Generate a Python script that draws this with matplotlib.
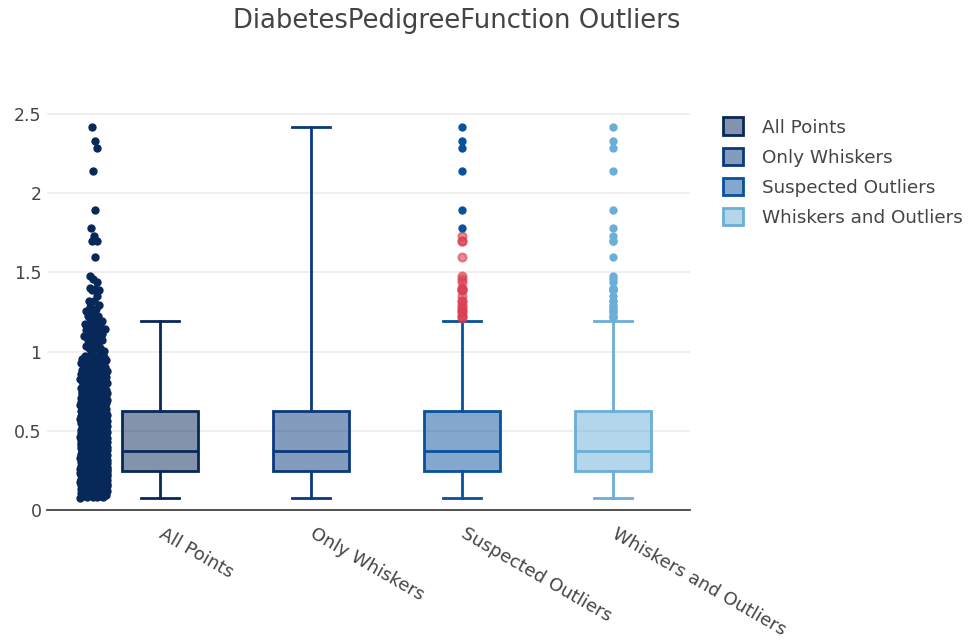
import numpy as np
import matplotlib.pyplot as plt
from matplotlib.patches import Patch
from matplotlib.colors import to_rgba

plt.rcParams['font.family'] = ['DejaVu Sans']

names = ['All Points', 'Only Whiskers', 'Suspected Outliers', 'Whiskers and Outliers']
colors = ['#072859', '#09387d', '#08519c', '#6baed6']
outlier_red = (219 / 255, 64 / 255, 82 / 255, 0.6)

# DiabetesPedigreeFunction values
dpf = [
    0.627, 0.351, 0.672, 0.167, 2.288, 0.201, 0.248, 0.134, 0.158, 0.232, 0.191, 0.537, 1.441, 0.398,
    0.587, 0.484, 0.551, 0.254, 0.183, 0.529, 0.704, 0.388, 0.451, 0.263, 0.254, 0.205, 0.257, 0.487,
    0.245, 0.337, 0.546, 0.851, 0.267, 0.188, 0.512, 0.966, 0.420, 0.665, 0.503, 1.390, 0.271, 0.696,
    0.235, 0.721, 0.294, 1.893, 0.564, 0.586, 0.344, 0.305, 0.491, 0.526, 0.342, 0.467, 0.718, 0.962,
    1.781, 0.173, 0.304, 0.270, 0.699, 0.258, 0.203, 0.855, 0.845, 0.334, 0.189, 0.867, 0.411, 0.583,
    0.231, 0.396, 0.140, 0.391, 0.370, 0.270, 0.307, 0.140, 0.102, 0.767, 0.237, 0.227, 0.698, 0.178,
    0.324, 0.153, 0.165, 0.258, 0.443, 0.261, 0.277, 0.761, 0.255, 0.130, 0.323, 0.356, 0.325, 1.222,
    0.179, 0.262, 0.283, 0.930, 0.801, 0.207, 0.287, 0.336, 0.247, 0.199, 0.543, 0.192, 0.391, 0.588,
    0.539, 0.220, 0.654, 0.443, 0.223, 0.759, 0.260, 0.404, 0.186, 0.278, 0.496, 0.452, 0.261, 0.403,
    0.741, 0.361, 1.114, 0.356, 0.457, 0.647, 0.088, 0.597, 0.532, 0.703, 0.159, 0.268, 0.286, 0.318,
    0.272, 0.237, 0.572, 0.096, 1.400, 0.218, 0.085, 0.399, 0.432, 1.189, 0.687, 0.137, 0.337, 0.637,
    0.833, 0.229, 0.817, 0.294, 0.204, 0.167, 0.368, 0.743, 0.722, 0.256, 0.709, 0.471, 0.495, 0.180,
    0.542, 0.773, 0.678, 0.370, 0.719, 0.382, 0.319, 0.190, 0.956, 0.084, 0.725, 0.299, 0.268, 0.244,
    0.745, 0.615, 1.321, 0.640, 0.142, 0.374, 0.383, 0.578, 0.136, 0.395, 0.187, 0.678, 0.905, 0.150,
    0.874, 0.236, 0.787, 0.235, 0.324, 0.407, 0.605, 0.151, 0.289, 0.355, 0.290, 0.375, 0.164, 0.431,
    0.260, 0.742, 0.514, 0.464, 1.224, 0.261, 1.072, 0.805, 0.209, 0.687, 0.666, 0.101, 0.198, 0.652,
    2.329, 0.089, 0.645, 0.238, 0.583, 0.394, 0.293, 0.479, 0.586, 0.686, 0.831, 0.582, 0.192, 0.446,
    0.402, 1.318, 0.329, 1.213, 0.258, 0.427, 0.282, 0.143, 0.380, 0.284, 0.249, 0.926, 0.557, 0.092,
    0.655, 1.353, 0.612, 0.200, 0.226, 0.997, 0.933, 1.101, 0.078, 0.240, 1.136, 0.128, 0.254, 0.422,
    0.251, 0.677, 0.296, 0.454, 0.744, 0.881, 0.280, 0.262, 0.165, 0.259, 0.647, 0.619, 0.808, 0.340,
    0.434, 0.757, 0.613, 0.692, 0.520, 0.412, 0.840, 0.839, 0.156, 0.215, 0.326, 1.391, 0.875, 0.313,
    0.433, 0.626, 1.127, 0.315, 0.345, 0.129, 0.527, 0.197, 0.731, 0.148, 0.123, 0.127, 0.122, 1.476,
    0.166, 0.932, 0.343, 0.893, 0.331, 0.472, 0.673, 0.389, 0.485, 0.349, 0.279, 0.346, 0.252, 0.243,
    0.580, 0.559, 0.302, 0.569, 0.378, 0.385, 0.499, 0.306, 0.234, 2.137, 1.731, 0.545, 0.225, 0.816,
    0.528, 0.509, 1.021, 0.821, 0.947, 1.268, 0.221, 0.205, 0.660, 0.239, 0.949, 0.444, 0.463, 0.803,
    1.600, 0.944, 0.196, 0.241, 0.161, 0.135, 0.376, 1.191, 0.702, 0.674, 1.076, 0.534, 1.095, 0.554,
    0.624, 0.219, 0.507, 0.561, 0.421, 0.516, 0.264, 0.256, 0.328, 0.233, 0.108, 1.138, 0.147, 0.727,
    0.435, 0.497, 0.230, 0.955, 2.420, 0.658, 0.330, 0.510, 0.285, 0.415, 0.381, 0.832, 0.498, 0.212,
    0.364, 1.001, 0.460, 0.733, 0.416, 0.705, 1.022, 0.269, 0.600, 0.571, 0.607, 0.170, 0.210, 0.126,
    0.711, 0.466, 0.162, 0.419, 0.344, 0.197, 0.306, 0.233, 0.630, 0.365, 0.536, 1.159, 0.294, 0.551,
    0.629, 0.292, 0.145, 1.144, 0.174, 0.547, 0.163, 0.738, 0.314, 0.968, 0.409, 0.297, 0.525, 0.154,
    0.771, 0.107, 0.493, 0.717, 0.917, 0.501, 1.251, 0.735, 0.804, 0.661, 0.549, 0.825, 0.423, 1.034,
    0.160, 0.341, 0.680, 0.204, 0.591, 0.247, 0.422, 0.471, 0.161, 0.218, 0.237, 0.126, 0.300, 0.121,
    0.502, 0.401, 0.497, 0.601, 0.748, 0.412, 0.085, 0.338, 0.203, 0.270, 0.268, 0.430, 0.198, 0.892,
    0.280, 0.813, 0.693, 0.245, 0.575, 0.371, 0.206, 0.259, 0.190, 0.687, 0.417, 1.154, 0.925, 0.175,
    1.699, 0.682, 0.194, 0.400, 0.100, 1.258, 0.482, 0.138, 0.593, 0.878, 0.157, 1.282, 0.141, 0.246,
    1.698, 1.461, 0.347, 0.362, 0.393, 0.144, 0.732, 0.115, 0.465, 0.649, 0.871, 0.149, 0.695, 0.303,
    0.610, 0.730, 0.447, 0.455, 0.133, 0.155, 1.162, 1.292, 0.182, 1.394, 0.217, 0.631, 0.880, 0.614,
    0.332, 0.366, 0.181, 0.828, 0.335, 0.856, 0.886, 0.439, 0.253, 0.598, 0.904, 0.483, 0.565, 0.118,
    0.177, 0.176, 0.295, 0.441, 0.352, 0.826, 0.970, 0.595, 0.317, 0.265, 0.646, 0.426, 0.560, 0.515,
    0.453, 0.785, 0.734, 1.174, 0.488, 0.358, 1.096, 0.408, 1.182, 0.222, 1.057, 0.766, 0.171, 0.827,
    0.240, 0.348, 0.137, 0.403, 0.452, 0.247, 0.290, 0.280, 0.251, 0.178, 0.258, 0.196, 0.178, 0.235,
    0.543, 0.127, 0.304, 0.162, 0.439, 0.396, 0.561, 0.248, 0.183, 0.528, 0.565, 0.150, 0.327, 0.227,
    0.260, 0.236, 0.256, 0.280, 0.213, 0.400, 0.187, 0.507, 0.443, 0.268, 0.153, 0.349, 0.278, 0.244,
    0.151, 0.204, 0.258, 0.230, 0.299, 0.466, 0.277, 0.259, 0.245, 0.261, 0.187, 0.238, 0.350, 0.290,
    0.260, 0.300, 0.121, 0.502, 0.401, 0.497, 0.601, 0.748, 0.412, 0.085, 0.338, 0.203, 0.270, 0.268,
    0.280, 0.813, 0.693, 0.245, 0.575, 0.371, 0.206, 0.259, 0.190, 0.687, 0.417, 0.925, 0.175, 0.682,
    0.194, 0.400, 0.100, 0.482, 0.138, 0.593, 0.878, 0.157, 0.141, 0.246, 0.347, 0.362, 0.393, 0.144,
    0.732, 0.115, 0.465, 0.649, 0.871, 0.149, 0.695, 0.303, 0.610, 0.730, 0.447, 0.455, 0.133, 0.155,
    0.182, 0.217, 0.631, 0.880, 0.614, 0.332, 0.366, 0.181, 0.828, 0.335, 0.856, 0.886, 0.439, 0.253,
    0.598, 0.904, 0.483, 0.565, 0.118, 0.177, 0.176, 0.295, 0.441, 0.352, 0.826, 0.970, 0.595, 0.317,
    0.265, 0.646, 0.426, 0.560, 0.515, 0.453, 0.785, 0.734, 1.174, 0.488, 0.358, 1.096, 0.408, 0.222,
    1.057, 0.766, 0.171, 0.827, 0.240, 0.348, 0.137, 0.403, 0.452, 0.247, 0.290, 0.280, 0.251, 0.178,
    0.559, 0.302, 0.569, 0.378, 0.385, 0.499, 0.306, 0.234, 0.545, 0.225, 0.816, 0.528, 0.509, 1.021,
    0.821, 0.947, 0.221, 0.205, 0.660, 0.239, 0.949, 0.444, 0.463, 0.803, 0.944, 0.196, 0.241, 0.161,
    0.135, 0.376, 0.702, 0.674, 1.076, 0.534, 1.095, 0.554, 0.624, 0.219, 0.507, 0.561, 0.421, 0.516,
    0.264, 0.256, 0.328, 0.233, 0.108, 1.138, 0.147, 0.727, 0.435, 0.497, 0.230, 0.955, 0.658, 0.330,
    0.510, 0.285, 0.415, 0.381, 0.832, 0.498, 0.212, 0.364, 1.001, 0.460, 0.733, 0.416, 0.705, 1.022,
]

# box statistics: lower whisker, Q1, median, Q3, upper whisker
whislo = [0.078, 0.078, 0.078, 0.078]
q1 = [0.24375, 0.24375, 0.24375, 0.24375]
med = [0.3725, 0.3725, 0.3725, 0.3725]
q3 = [0.62625, 0.62625, 0.62625, 0.62625]
whishi = [1.191, 2.42, 1.191, 1.191]

fig = plt.figure(figsize=(9.73, 6.42), dpi=100)
ax = fig.add_axes([0.0483, 0.2056, 0.6610, 0.6366])

pos = np.arange(len(names))
for i, c in enumerate(colors):
    stats = [dict(whislo=whislo[i], q1=q1[i], med=med[i], q3=q3[i], whishi=whishi[i], fliers=[])]
    ax.bxp(stats, positions=[pos[i]], widths=0.5, capwidths=0.25, patch_artist=True,
           showfliers=False,
           boxprops=dict(facecolor=to_rgba(c, 0.5), edgecolor=c, linewidth=2),
           medianprops=dict(color=c, linewidth=2),
           whiskerprops=dict(color=c, linewidth=2),
           capprops=dict(color=c, linewidth=2), manage_ticks=False)

vals = np.array(dpf)

# all points: jittered strip beside the first box, spread scaled by local density.
# offsets follow a golden-ratio sequence over the value ranks so neighbours spread out
counts = np.array([np.sum(np.abs(vals - v) < 0.05) for v in vals])
spread = np.clip(counts / (0.15 * counts.max()), 0, 1) ** 0.5
rank = np.argsort(np.argsort(vals, kind='stable'), kind='stable')
u = (rank * 0.6180339887) % 1 - 0.5
ax.scatter(pos[0] - 0.44 + u * 0.18 * spread, vals, s=36, color=colors[0],
           linewidths=0, zorder=3)

# outliers beyond the upper whisker
fliers = np.unique(vals[vals > whishi[2]])
far = 4 * q3[2] - 3 * q1[2]
sus = fliers[fliers <= far]
out = fliers[fliers > far]
ax.scatter(np.full(len(sus), pos[2]), sus, s=34, color=outlier_red,
           edgecolors=outlier_red, linewidths=1.5, zorder=3)
ax.scatter(np.full(len(out), pos[2]), out, s=36, color=colors[2], linewidths=0, zorder=3)
ax.scatter(np.full(len(fliers), pos[3]), fliers, s=36, color=colors[3], linewidths=0, zorder=3)

ax.set_xlim(-0.75, 3.51)
ax.set_ylim(0, 2.58)
ax.set_yticks([0, 0.5, 1, 1.5, 2, 2.5])
ax.set_yticklabels(['0', '0.5', '1', '1.5', '2', '2.5'])
ax.set_xticks(pos)
ax.set_xticklabels(names, rotation=-30, ha='left', va='center', rotation_mode='anchor')
ax.tick_params(axis='both', length=0, labelcolor='#444444')
ax.tick_params(axis='x', pad=16, labelsize=13)
ax.tick_params(axis='y', pad=4, labelsize=12.5)
ax.grid(axis='y', color='#eeeeee', linewidth=1.3)
ax.set_axisbelow(True)
for s in ['top', 'right', 'left']:
    ax.spines[s].set_visible(False)
ax.spines['bottom'].set_color('#444444')
ax.spines['bottom'].set_linewidth(1.3)

fig.text(0.469, 0.968, 'DiabetesPedigreeFunction Outliers', ha='center', va='center',
         fontsize=18.6, color='#444444')

handles = [Patch(facecolor=to_rgba(c, 0.5), edgecolor=c, linewidth=2) for c in colors]
leg = fig.legend(handles, names, loc='upper left', bbox_to_anchor=(0.743, 0.817),
                 frameon=False, fontsize=13.2, handlelength=1.1, handleheight=1.1,
                 handletextpad=1.05, labelspacing=0.6, borderpad=0, borderaxespad=0)
for t in leg.get_texts():
    t.set_color('#444444')

fig.savefig('out.png', dpi=100)
